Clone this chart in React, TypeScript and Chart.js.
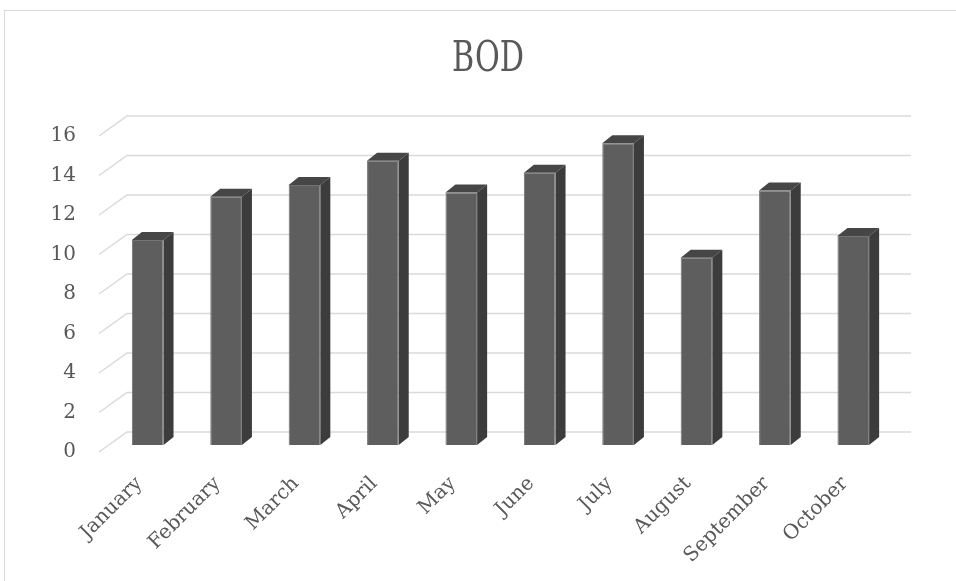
import React, { useEffect, useRef } from "react";
import { Chart, registerables } from "chart.js";

Chart.register(...registerables);

const chartTitle = "BOD";
const months = [
  "January",
  "February",
  "March",
  "April",
  "May",
  "June",
  "July",
  "August",
  "September",
  "October",
];
const bodValues = [10.38, 12.57, 13.16, 14.39, 12.79, 13.79, 15.28, 9.48, 12.88, 10.58];
const yTickValues = [0, 2, 4, 6, 8, 10, 12, 14, 16];

const W = 956;
const H = 581;

// 3D geometry
const WALL_DX = 28;
const WALL_DY = -20;
const BAR_SHIFT_X = 9.5;
const BAR_SHIFT_Y = -7;
const BAR_DEPTH_X = 10;
const BAR_DEPTH_Y = -8;

const frame3dPlugin = {
  id: "frame3d",
  beforeDraw(chart: any) {
    const ctx = chart.ctx;
    ctx.save();
    ctx.fillStyle = "#ffffff";
    ctx.fillRect(0, 0, W, H);
    ctx.strokeStyle = "#d9d9d9";
    ctx.lineWidth = 1;
    ctx.strokeRect(4.5, 10.5, W + 20, H + 20);
    // title (condensed serif)
    ctx.fillStyle = "#595959";
    ctx.font = '42px "DejaVu Serif Condensed", "DejaVu Serif", serif';
    ctx.textAlign = "center";
    ctx.textBaseline = "alphabetic";
    ctx.translate(488, 71);
    ctx.scale(0.8, 1);
    ctx.fillText(chartTitle, 0, 0);
    ctx.restore();
  },
  beforeDatasetsDraw(chart: any) {
    const ctx = chart.ctx;
    const y = chart.scales.y;
    const area = chart.chartArea;
    ctx.save();
    ctx.strokeStyle = "#dadada";
    ctx.lineWidth = 1.5;
    for (const v of yTickValues) {
      const py = y.getPixelForValue(v);
      ctx.beginPath();
      ctx.moveTo(area.left, py);
      ctx.lineTo(area.left + WALL_DX, py + WALL_DY);
      ctx.lineTo(area.right + WALL_DX, py + WALL_DY);
      ctx.stroke();
    }
    ctx.restore();
  },
  beforeDatasetDraw(chart: any) {
    const ctx = chart.ctx;
    ctx.save();
    ctx.translate(BAR_SHIFT_X, BAR_SHIFT_Y);
  },
  afterDatasetDraw(chart: any, args: any) {
    const ctx = chart.ctx;
    const meta = args.meta;
    for (const el of meta.data) {
      const { x, y, base, width } = el.getProps(["x", "y", "base", "width"], true);
      const x1 = x - width / 2;
      const x2 = x + width / 2;
      // top face
      ctx.beginPath();
      ctx.moveTo(x1, y);
      ctx.lineTo(x2, y);
      ctx.lineTo(x2 + BAR_DEPTH_X, y + BAR_DEPTH_Y);
      ctx.lineTo(x1 + BAR_DEPTH_X, y + BAR_DEPTH_Y);
      ctx.closePath();
      ctx.fillStyle = "#464646";
      ctx.fill();
      // side face
      ctx.beginPath();
      ctx.moveTo(x2, y);
      ctx.lineTo(x2 + BAR_DEPTH_X, y + BAR_DEPTH_Y);
      ctx.lineTo(x2 + BAR_DEPTH_X, base + BAR_DEPTH_Y);
      ctx.lineTo(x2, base);
      ctx.closePath();
      ctx.fillStyle = "#3c3c3c";
      ctx.fill();
    }
    ctx.restore();
  },
};

export default function App() {
  const canvasRef = useRef<HTMLCanvasElement | null>(null);

  useEffect(() => {
    const canvas = canvasRef.current;
    if (!canvas) return;
    const chart = new Chart(canvas, {
      type: "bar",
      data: {
        labels: months,
        datasets: [
          {
            data: bodValues,
            backgroundColor: "#5e5e5e",
            borderColor: "#737373",
            borderWidth: 1,
            barPercentage: 0.404,
            categoryPercentage: 1,
            clip: false as any,
          },
        ],
      },
      options: {
        animation: false,
        responsive: false,
        maintainAspectRatio: false,
        devicePixelRatio: 1,
        layout: { padding: { left: 0, right: 73, top: 136, bottom: 0 } },
        plugins: {
          legend: { display: false },
          title: { display: false },
          tooltip: { enabled: false },
        },
        scales: {
          x: {
            grid: { display: false, drawTicks: false },
            border: { display: false },
            ticks: {
              minRotation: 45,
              maxRotation: 45,
              autoSkip: false,
              color: "#595959",
              padding: 20,
              labelOffset: 1,
              font: { family: '"DejaVu Serif", serif', size: 20 },
            },
            afterFit: (s: any) => {
              s.height = 129;
            },
          },
          y: {
            min: 0,
            max: 16,
            grid: { display: false, drawTicks: false },
            border: { display: false },
            ticks: {
              stepSize: 2,
              color: "#595959",
              padding: 23,
              font: { family: '"DejaVu Serif", serif', size: 20 },
            },
            afterFit: (s: any) => {
              s.width = 99;
            },
          },
        },
      },
      plugins: [frame3dPlugin],
    });
    return () => chart.destroy();
  }, []);

  return (
    <div style={{ position: "fixed", left: 0, top: 0, width: W, height: H, background: "#fff" }}>
      <canvas ref={canvasRef} width={W} height={H} style={{ display: "block", width: W, height: H }} />
    </div>
  );
}
